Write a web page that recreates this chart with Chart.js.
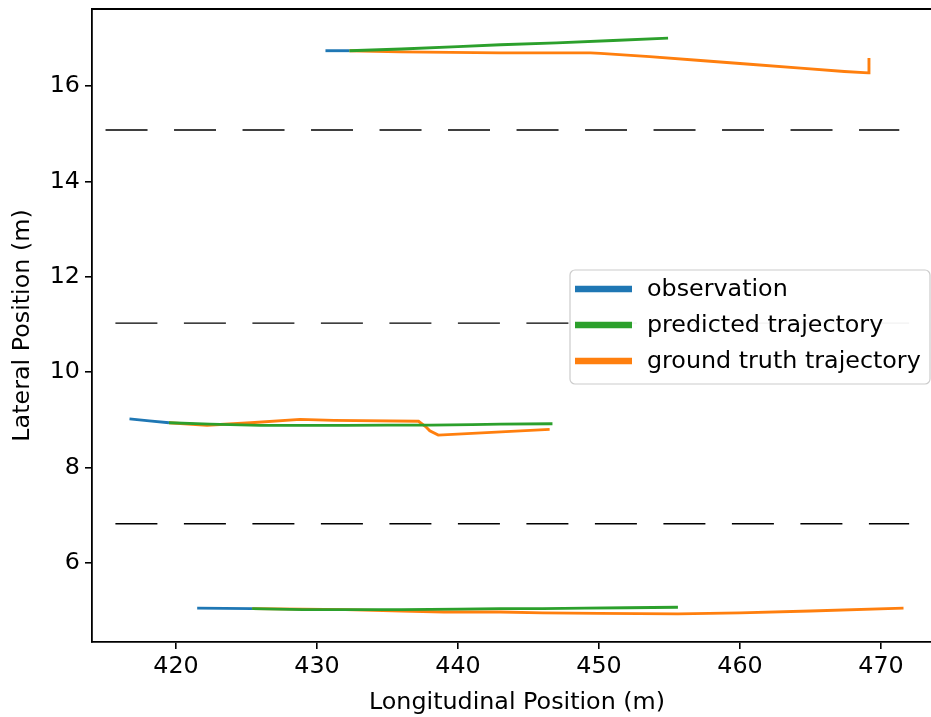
<!DOCTYPE html>
<html lang="en">
  <head>
    <meta charset="UTF-8" />
    <title>Trajectory Prediction</title>
    <style>
      html,
      body {
        margin: 0;
        padding: 0;
        background: #fff;
        overflow: hidden;
      }
      #wrap {
        width: 945px;
        height: 717px;
      }
    </style>
  </head>
  <body>
    <div id="wrap"><canvas id="trajChart" width="945" height="717"></canvas></div>

    <script src="https://cdn.jsdelivr.net/npm/chart.js"></script>
    <script>
      // axis ticks
      const xTicks = [420, 430, 440, 450, 460, 470];
      const yTicks = [6, 8, 10, 12, 14, 16];

      // lane markings: lateral position and longitudinal extent
      const laneY = [15.08, 11.03, 6.82];
      const laneStartX = [415.0, 415.7, 415.7];
      const laneEndX = [471.3, 472.0, 472.0];

      // vehicle in the upper lane
      const obs1X = [430.6, 432.3];
      const obs1Y = [16.745, 16.745];
      const pred1X = [432.3, 436, 440, 443, 447, 451, 454.9];
      const pred1Y = [16.745, 16.78, 16.83, 16.87, 16.91, 16.96, 17.01];
      const gt1X = [432.3, 435.9, 439.5, 443, 446.5, 449.4, 450.1, 453.6, 457.2, 460.7, 464.3, 467.4, 469.1, 469.15];
      const gt1Y = [16.745, 16.72, 16.71, 16.70, 16.70, 16.70, 16.69, 16.62, 16.54, 16.46, 16.38, 16.31, 16.28, 16.59];

      // vehicle in the middle lane
      const obs2X = [416.7, 418.1, 419.5];
      const obs2Y = [9.02, 8.98, 8.94];
      const pred2X = [419.5, 422.4, 426.0, 428.8, 432, 435, 438.0, 441, 443.0, 446.7];
      const pred2Y = [8.94, 8.91, 8.885, 8.885, 8.885, 8.89, 8.89, 8.90, 8.91, 8.92];
      const gt2X = [419.5, 422.2, 425.3, 428.8, 431.2, 437.2, 437.7, 438.0, 438.6, 446.5];
      const gt2Y = [8.94, 8.887, 8.94, 9.01, 8.99, 8.97, 8.86, 8.77, 8.68, 8.80];

      // vehicle in the lower lane
      const obs3X = [421.5, 425.4];
      const obs3Y = [5.05, 5.04];
      const pred3X = [425.4, 429, 432.1, 436, 440, 443, 446, 449, 452, 455.6];
      const pred3Y = [5.04, 5.02, 5.02, 5.02, 5.03, 5.04, 5.04, 5.05, 5.06, 5.07];
      const gt3X = [425.4, 429, 432, 436, 439, 443, 446, 450, 455.6, 460, 465, 471.6];
      const gt3Y = [5.04, 5.03, 5.02, 4.99, 4.97, 4.97, 4.95, 4.94, 4.93, 4.95, 4.99, 5.05];

      const seriesNames = ["observation", "predicted trajectory", "ground truth trajectory"];
      const seriesColors = ["#1f77b4", "#2ca02c", "#ff7f0e"];

      const FONT = "'DejaVu Sans', sans-serif";
      const FONT_SIZE = 23.8;
      const pts = (xs, ys) => xs.map((x, i) => ({ x: x, y: ys[i] }));

      function track(xs, ys, kind) {
        return {
          data: pts(xs, ys),
          borderColor: seriesColors[kind],
          borderWidth: 2.9,
          showLine: true,
          pointRadius: 0,
          fill: false,
        };
      }

      // first dataset ends up on top
      const datasets = [
        track(pred1X, pred1Y, 1),
        track(pred2X, pred2Y, 1),
        track(pred3X, pred3Y, 1),
        track(obs1X, obs1Y, 0),
        track(obs2X, obs2Y, 0),
        track(obs3X, obs3Y, 0),
        track(gt1X, gt1Y, 2),
        track(gt2X, gt2Y, 2),
        track(gt3X, gt3Y, 2),
      ];
      laneY.forEach((y, i) => {
        datasets.push({
          data: pts([laneStartX[i], laneEndX[i]], [y, y]),
          borderColor: "#000",
          borderWidth: 1.4,
          borderDash: [42, 26.5],
          showLine: true,
          pointRadius: 0,
        });
      });

      // top spine and the legend box
      const framePlugin = {
        id: "frame",
        afterDraw(chart) {
          const { ctx, chartArea: a } = chart;
          ctx.save();
          ctx.strokeStyle = "#000";
          ctx.lineWidth = 1.8;
          ctx.beginPath();
          ctx.moveTo(a.left - 0.9, a.top);
          ctx.lineTo(a.right, a.top);
          ctx.stroke();

          // legend
          const bx = 570, by = 270, bw = 360, bh = 114, r = 5;
          ctx.fillStyle = "rgba(255,255,255,0.95)";
          ctx.strokeStyle = "#cccccc";
          ctx.lineWidth = 1.2;
          ctx.beginPath();
          ctx.roundRect(bx, by, bw, bh, r);
          ctx.fill();
          ctx.stroke();

          ctx.font = FONT_SIZE + "px " + FONT;
          ctx.textBaseline = "middle";
          ctx.textAlign = "left";
          seriesNames.forEach((name, i) => {
            const y = 289 + i * 36;
            ctx.strokeStyle = seriesColors[i];
            ctx.lineWidth = 6.5;
            ctx.beginPath();
            ctx.moveTo(575, y);
            ctx.lineTo(632, y);
            ctx.stroke();
            ctx.fillStyle = "#000";
            ctx.fillText(name, 647, y + 1);
          });
          ctx.restore();
        },
      };

      new Chart(document.getElementById("trajChart"), {
        type: "scatter",
        data: { datasets: datasets },
        options: {
          responsive: false,
          animation: false,
          events: [],
          layout: { padding: { left: 0, top: 9, right: 3, bottom: 0 } },
          plugins: { legend: { display: false }, tooltip: { enabled: false } },
          scales: {
            x: {
              type: "linear",
              min: 414.04,
              max: 474.33,
              afterFit: (s) => {
                s.height = 75;
                s.paddingLeft = 0;
                s.paddingRight = 0;
              },
              afterBuildTicks: (s) => { s.ticks = xTicks.map((v) => ({ value: v })); },
              grid: { drawOnChartArea: false, tickLength: 7, color: "#000", lineWidth: 1.6 },
              border: { color: "#000", width: 1.8 },
              ticks: { color: "#000", padding: 4, font: { family: FONT, size: FONT_SIZE } },
              title: {
                display: true,
                text: "Longitudinal Position (m)",
                color: "#000",
                font: { family: FONT, size: FONT_SIZE },
                padding: { top: 0, bottom: 0 },
              },
            },
            y: {
              type: "linear",
              min: 4.34,
              max: 17.62,
              afterFit: (s) => {
                s.width = 92;
                s.paddingTop = 0;
                s.paddingBottom = 0;
              },
              afterBuildTicks: (s) => { s.ticks = yTicks.map((v) => ({ value: v })); },
              grid: { drawOnChartArea: false, tickLength: 7, color: "#000", lineWidth: 1.6 },
              border: { color: "#000", width: 1.8 },
              ticks: { color: "#000", padding: 5, font: { family: FONT, size: FONT_SIZE } },
              title: {
                display: true,
                text: "Lateral Position (m)",
                color: "#000",
                font: { family: FONT, size: FONT_SIZE },
                padding: { top: 9, bottom: 0 },
              },
            },
          },
        },
        plugins: [framePlugin],
      });
    </script>
  </body>
</html>
